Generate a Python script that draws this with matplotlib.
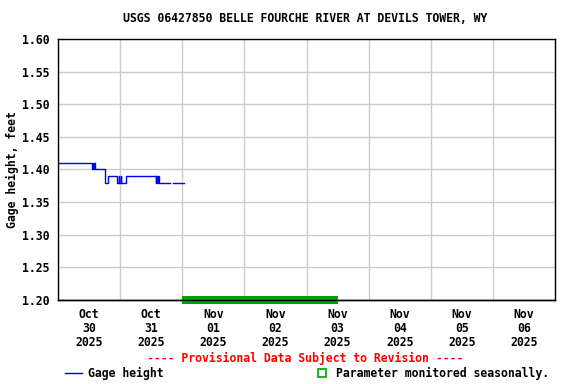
import numpy as np
import pandas as pd
import matplotlib
matplotlib.use("Agg")
import matplotlib.pyplot as plt
import matplotlib.dates as mdates
from matplotlib.lines import Line2D
from matplotlib.patches import Rectangle

# 数据：时间与水位（英尺），NaN 表示缺测
times = ["2025-10-30 00:00", "2025-10-30 13:15", "2025-10-30 13:30", "2025-10-30 13:45",
         "2025-10-30 14:00", "2025-10-30 14:15", "2025-10-30 18:15", "2025-10-30 19:15",
         "2025-10-30 22:45", "2025-10-30 23:30", "2025-10-30 23:45", "2025-10-31 00:15",
         "2025-10-31 00:30", "2025-10-31 02:15", "2025-10-31 13:45", "2025-10-31 14:00",
         "2025-10-31 14:15", "2025-10-31 14:45", "2025-10-31 15:00", "2025-10-31 19:15",
         "2025-10-31 20:30", "2025-11-01 00:45"]
gage = [1.41, 1.40, 1.41, 1.40,
        1.41, 1.40, 1.38, 1.39,
        1.38, 1.39, 1.38, 1.39,
        1.38, 1.39, 1.38, 1.39,
        1.38, 1.39, 1.38, np.nan,
        1.38, 1.38]

seasonal_start = "2025-11-01 00:00"
seasonal_end = "2025-11-03 12:00"

day_labels = ["Oct\n30\n2025", "Oct\n31\n2025", "Nov\n01\n2025", "Nov\n02\n2025",
              "Nov\n03\n2025", "Nov\n04\n2025", "Nov\n05\n2025", "Nov\n06\n2025"]
y_ticks = [1.20, 1.25, 1.30, 1.35, 1.40, 1.45, 1.50, 1.55, 1.60]

font = "DejaVu Sans Mono"
fs = 8.3

t = pd.to_datetime(times)
fig = plt.figure(figsize=(5.76, 3.84), dpi=100)
ax = fig.add_axes([58 / 576, 84 / 384, 497 / 576, 261 / 384])

x0 = pd.Timestamp("2025-10-30 00:00")
x1 = pd.Timestamp("2025-11-07 00:00")
ax.set_xlim(x0, x1)
ax.set_ylim(1.20, 1.60)

# 网格：午夜竖线、0.05 横线
ax.xaxis.set_major_locator(mdates.DayLocator())
ax.xaxis.set_major_formatter(plt.NullFormatter())
noons = pd.date_range("2025-10-30 12:00", periods=8, freq="D")
ax.set_xticks(mdates.date2num(noons), minor=True)
ax.set_xticklabels(day_labels, minor=True, fontfamily=font, fontweight="bold", fontsize=fs,
                   linespacing=1.1)
ax.set_yticks(y_ticks)
ax.set_yticklabels([f"{v:.2f}" for v in y_ticks], fontfamily=font, fontweight="bold", fontsize=fs)
ax.tick_params(axis="both", which="both", length=0, pad=6)
ax.tick_params(axis="x", which="minor", pad=6)
ax.grid(True, which="major", color="#cccccc", linewidth=1)
ax.set_axisbelow(True)

ax.plot(t, gage, drawstyle="steps-post", color="#0000ff", linewidth=1)

# 季节性监测绿色条
xs = mdates.date2num(pd.Timestamp(seasonal_start))
xe = mdates.date2num(pd.Timestamp(seasonal_end))
ax.add_patch(Rectangle((xs, 1.194), xe - xs, 0.012, facecolor="#00a000",
                       edgecolor="none", clip_on=False, zorder=3))
ax.axhline(1.20, color="black", linewidth=1, zorder=4, clip_on=False)

for s in ax.spines.values():
    s.set_color("black")
    s.set_linewidth(1)

ax.set_ylabel("Gage height, feet", fontfamily=font, fontweight="bold", fontsize=fs, labelpad=2)
fig.text(305 / 576, 1 - 19 / 384, "USGS 06427850 BELLE FOURCHE RIVER AT DEVILS TOWER, WY",
         ha="center", va="center", fontfamily=font, fontweight="bold", fontsize=fs)
fig.text(305 / 576, 1 - 358 / 384, "---- Provisional Data Subject to Revision ----",
         ha="center", va="center", color="red", fontfamily=font, fontweight="bold", fontsize=fs)

# 图例
fig.add_artist(Line2D([65 / 576, 82 / 576], [1 - 373 / 384, 1 - 373 / 384],
                      color="#0000ff", linewidth=1))
fig.text(88 / 576, 1 - 373 / 384, "Gage height", ha="left", va="center",
         fontfamily=font, fontweight="bold", fontsize=fs)
fig.add_artist(Rectangle((318 / 576, 1 - 377 / 384), 8 / 576, 8 / 384, facecolor="none",
                         edgecolor="#00a000", linewidth=1.2))
fig.text(336 / 576, 1 - 373 / 384, "Parameter monitored seasonally.", ha="left", va="center",
         fontfamily=font, fontweight="bold", fontsize=fs)

fig.savefig("out.png", dpi=100)
